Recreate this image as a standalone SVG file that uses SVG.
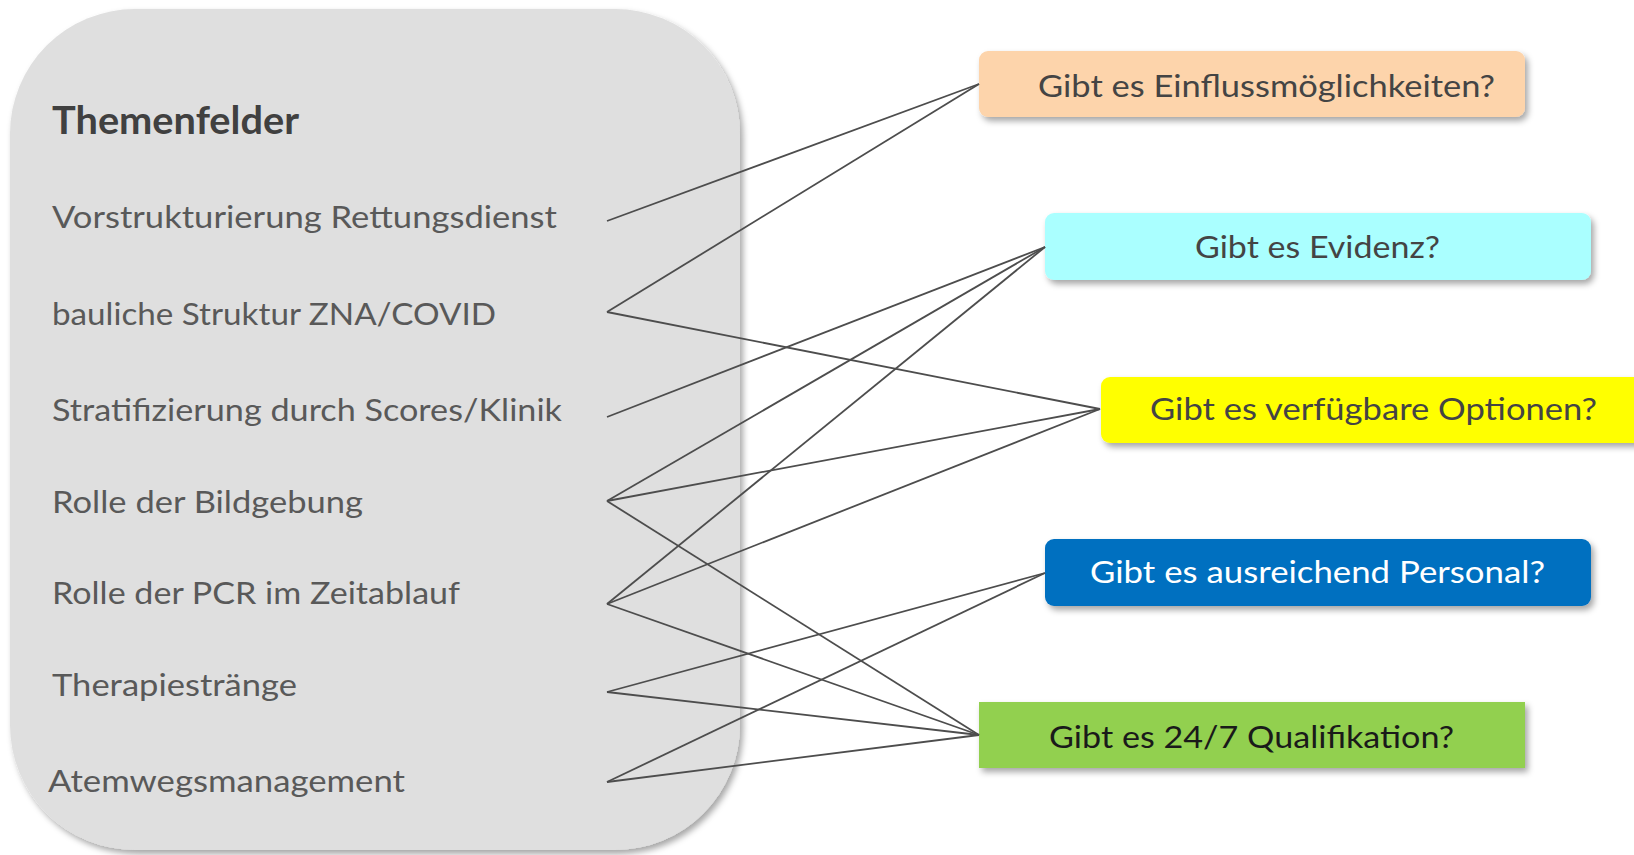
<svg xmlns="http://www.w3.org/2000/svg" width="1634" height="855" viewBox="0 0 1634 855">
  <defs>
    <filter id="shadow" x="-10%" y="-10%" width="130%" height="140%">
      <feDropShadow dx="3" dy="4" stdDeviation="3" flood-color="#000" flood-opacity="0.35"/>
    </filter>
    <style>
      .txt { font-family: Lato, "Open Sans", "Liberation Sans", sans-serif; font-size: 31px; fill: #595959; }
      .head { font-family: Lato, "Open Sans", "Liberation Sans", sans-serif; font-size: 39px; font-weight: bold; fill: #404040; }
      .q { font-family: Lato, "Open Sans", "Liberation Sans", sans-serif; font-size: 31px; fill: #444444; }
      .link { stroke: #4d4d4d; stroke-width: 1.8; fill: none; }
    </style>
  </defs>

  <rect width="1634" height="855" fill="#ffffff"/>

  <!-- topic panel -->
  <g id="themenfelder">
    <rect x="10" y="9" width="730" height="841" rx="125" ry="125" fill="#dfdfdf" filter="url(#shadow)"/>
    <text class="head" x="52" y="134" textLength="247" lengthAdjust="spacingAndGlyphs">Themenfelder</text>
  </g>
  <g id="t-vorstrukturierung">
    <text class="txt" x="52" y="228" textLength="505" lengthAdjust="spacingAndGlyphs">Vorstrukturierung Rettungsdienst</text>
  </g>
  <g id="t-bauliche">
    <text class="txt" x="52" y="325" textLength="444" lengthAdjust="spacingAndGlyphs">bauliche Struktur ZNA/COVID</text>
  </g>
  <g id="t-stratifizierung">
    <text class="txt" x="52" y="421" textLength="510" lengthAdjust="spacingAndGlyphs">Stratifizierung durch Scores/Klinik</text>
  </g>
  <g id="t-bildgebung">
    <text class="txt" x="52" y="513" textLength="311" lengthAdjust="spacingAndGlyphs">Rolle der Bildgebung</text>
  </g>
  <g id="t-pcr">
    <text class="txt" x="52" y="604" textLength="408" lengthAdjust="spacingAndGlyphs">Rolle der PCR im Zeitablauf</text>
  </g>
  <g id="t-therapie">
    <text class="txt" x="52" y="696" textLength="245" lengthAdjust="spacingAndGlyphs">Therapiestränge</text>
  </g>
  <g id="t-atemweg">
    <text class="txt" x="48" y="792" textLength="357" lengthAdjust="spacingAndGlyphs">Atemwegsmanagement</text>
  </g>

  <!-- question boxes -->
  <g id="q-einfluss">
    <rect x="979" y="51" width="546" height="66" rx="9" fill="#fdd4ab" filter="url(#shadow)"/>
    <text class="q" x="1038" y="97" textLength="457" lengthAdjust="spacingAndGlyphs">Gibt es Einflussmöglichkeiten?</text>
  </g>
  <g id="q-evidenz">
    <rect x="1045" y="213" width="546" height="67" rx="9" fill="#aaffff" filter="url(#shadow)"/>
    <text class="q" x="1195" y="258" textLength="245" lengthAdjust="spacingAndGlyphs">Gibt es Evidenz?</text>
  </g>
  <g id="q-optionen">
    <rect x="1101" y="377" width="560" height="66" rx="9" fill="#ffff00" filter="url(#shadow)"/>
    <text class="q" x="1150" y="420" textLength="447" lengthAdjust="spacingAndGlyphs">Gibt es verfügbare Optionen?</text>
  </g>
  <g id="q-personal">
    <rect x="1045" y="539" width="546" height="67" rx="9" fill="#0070c0" filter="url(#shadow)"/>
    <text class="q" x="1090" y="583" textLength="455" lengthAdjust="spacingAndGlyphs" style="fill:#ffffff">Gibt es ausreichend Personal?</text>
  </g>
  <g id="q-qualifikation">
    <rect x="979" y="702" width="546" height="66" fill="#92d050" filter="url(#shadow)"/>
    <text class="q" x="1049" y="748" textLength="405" lengthAdjust="spacingAndGlyphs" style="fill:#1a1a1a">Gibt es 24/7 Qualifikation?</text>
  </g>

  <!-- connectors: topic -> question -->
  <g id="connectors">
    <line class="link" x1="607" y1="221" x2="979" y2="84"/>
    <line class="link" x1="607" y1="312" x2="979" y2="84"/>
    <line class="link" x1="607" y1="312" x2="1100" y2="409"/>
    <line class="link" x1="607" y1="417" x2="1045" y2="247"/>
    <line class="link" x1="607" y1="501" x2="1045" y2="247"/>
    <line class="link" x1="607" y1="501" x2="1100" y2="409"/>
    <line class="link" x1="607" y1="501" x2="979" y2="735"/>
    <line class="link" x1="607" y1="604" x2="1045" y2="247"/>
    <line class="link" x1="607" y1="604" x2="1100" y2="409"/>
    <line class="link" x1="607" y1="604" x2="979" y2="735"/>
    <line class="link" x1="607" y1="692" x2="1045" y2="573"/>
    <line class="link" x1="607" y1="692" x2="979" y2="735"/>
    <line class="link" x1="607" y1="782" x2="1045" y2="573"/>
    <line class="link" x1="607" y1="782" x2="979" y2="735"/>
  </g>
</svg>
